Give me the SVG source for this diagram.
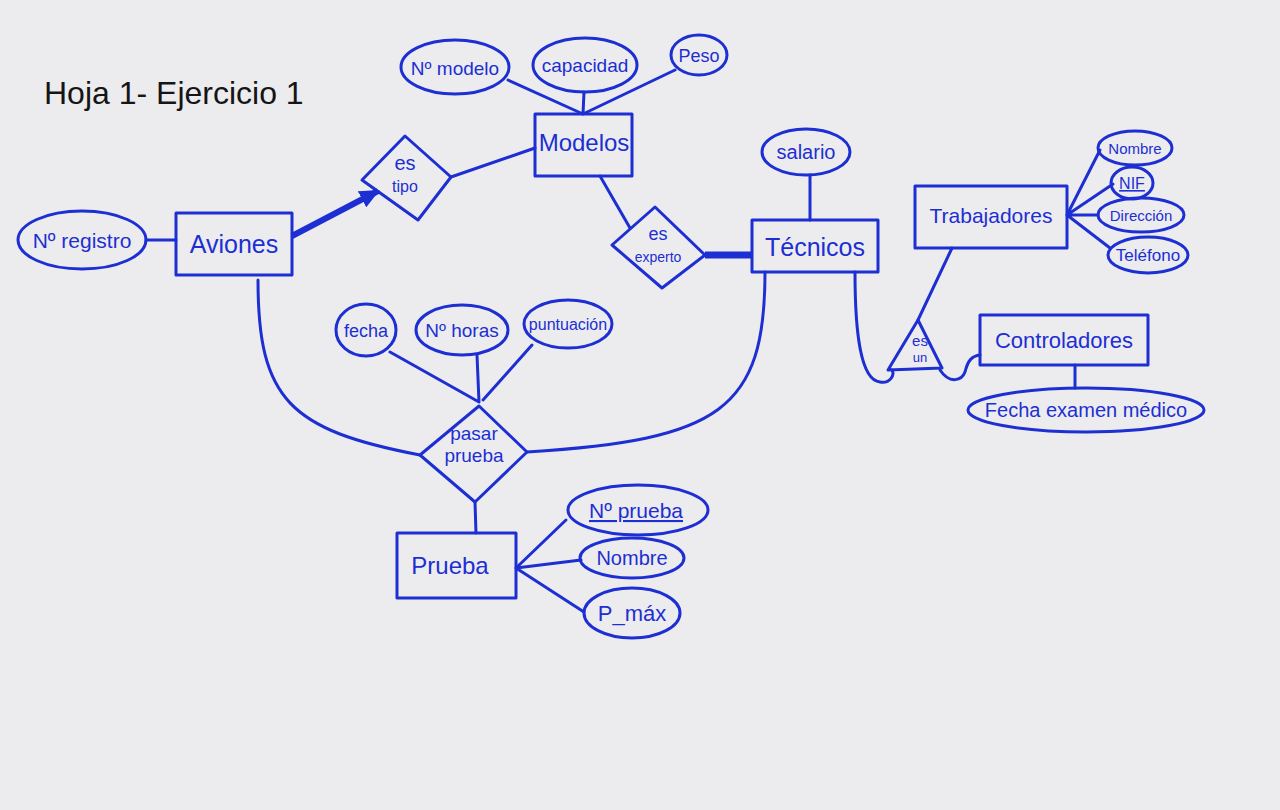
<svg xmlns="http://www.w3.org/2000/svg" width="1280" height="810" viewBox="0 0 1280 810">
<defs>
<style>
.s{fill:none;stroke:#1d2fd2;stroke-width:3;stroke-linejoin:round;stroke-linecap:round}
.t{font-family:"Liberation Sans",Arial,sans-serif;fill:#1d2fd2;text-anchor:middle}
.title{font-family:"Liberation Sans",Arial,sans-serif;fill:#151515;font-size:32px}
</style>
<marker id="ah" markerWidth="20" markerHeight="18" refX="18" refY="9" orient="auto" markerUnits="userSpaceOnUse">
<path d="M0,0 L20,9 L0,18 Z" fill="#1d2fd2"/>
</marker>
</defs>
<rect width="1280" height="810" fill="#ececef"/>
<text class="title" x="44" y="104">Hoja 1- Ejercicio 1</text>

<g id="connectors">
<path class="s" d="M146,240 L176,240"/>
<path d="M292,236 L378,191" stroke="#1d2fd2" stroke-width="6" fill="none" marker-end="url(#ah)"/>
<path class="s" d="M451,177 L535,148"/>
<path class="s" d="M508,80 L583,114 M584,92 L583,114 M675,70 L583,114"/>
<path class="s" d="M600,176 L630,228"/>
<path d="M705,255 L752,255" stroke="#1d2fd2" stroke-width="7" fill="none"/>
<path class="s" d="M810,175 L810,220"/>
<path class="s" d="M1067,215 L1100,150 M1067,215 L1113,184 M1067,215 L1098,215 M1067,215 L1110,248"/>
<path class="s" d="M952,248 L918,320"/>
<path class="s" d="M855,272 C855,330 860,380 880,382 C890,384 895,375 892,370"/>
<path class="s" d="M940,370 C950,385 962,380 965,372 C968,360 972,356 980,355"/>
<path class="s" d="M1075,365 L1075,388"/>
<path class="s" d="M258,280 C258,400 290,430 420,455"/>
<path class="s" d="M765,272 C765,410 720,440 527,452"/>
<path class="s" d="M390,352 L479,402 M477,355 L479,402 M532,345 L483,400"/>
<path class="s" d="M475,502 L476,533"/>
<path class="s" d="M516,568 L566,520 M516,568 L581,560 M516,568 L584,612"/>
</g>

<g id="n_registro"><ellipse class="s" cx="82" cy="240" rx="64" ry="29"/><text class="t" x="82" y="248" font-size="21">Nº registro</text></g>
<g id="aviones"><rect class="s" x="176" y="213" width="116" height="62"/><text class="t" x="234" y="253" font-size="25">Aviones</text></g>
<g id="es_tipo"><path class="s" d="M362,180 L405,136 L451,177 L418,220 Z"/><text class="t" x="405" y="170" font-size="20">es</text><text class="t" x="405" y="192" font-size="16">tipo</text></g>
<g id="modelos"><rect class="s" x="535" y="114" width="97" height="62"/><text class="t" x="584" y="151" font-size="24">Modelos</text></g>
<g id="n_modelo"><ellipse class="s" cx="455" cy="67" rx="54" ry="27"/><text class="t" x="455" y="75" font-size="19">Nº modelo</text></g>
<g id="capacidad"><ellipse class="s" cx="585" cy="65" rx="52" ry="27"/><text class="t" x="585" y="72" font-size="19">capacidad</text></g>
<g id="peso"><ellipse class="s" cx="699" cy="55" rx="28" ry="20"/><text class="t" x="699" y="62" font-size="18">Peso</text></g>
<g id="es_experto"><path class="s" d="M612,245 L655,207 L705,255 L662,288 Z"/><text class="t" x="658" y="240" font-size="18">es</text><text class="t" x="658" y="262" font-size="14">experto</text></g>
<g id="tecnicos"><rect class="s" x="752" y="220" width="126" height="52"/><text class="t" x="815" y="256" font-size="25">Técnicos</text></g>
<g id="salario"><ellipse class="s" cx="806" cy="152" rx="44" ry="23"/><text class="t" x="806" y="159" font-size="20">salario</text></g>
<g id="trabajadores"><rect class="s" x="915" y="186" width="152" height="62"/><text class="t" x="991" y="223" font-size="21">Trabajadores</text></g>
<g id="nombre_t"><ellipse class="s" cx="1135" cy="148" rx="37" ry="17"/><text class="t" x="1135" y="154" font-size="15">Nombre</text></g>
<g id="nif"><ellipse class="s" cx="1132" cy="183" rx="21" ry="16"/><text class="t" x="1132" y="189" font-size="16" text-decoration="underline">NIF</text></g>
<g id="direccion"><ellipse class="s" cx="1141" cy="215" rx="43" ry="17"/><text class="t" x="1141" y="221" font-size="15">Dirección</text></g>
<g id="telefono"><ellipse class="s" cx="1148" cy="255" rx="40" ry="18"/><text class="t" x="1148" y="261" font-size="17">Teléfono</text></g>
<g id="es_un"><path class="s" d="M918,320 L888,370 L942,368 Z"/><text class="t" x="920" y="346" font-size="15">es</text><text class="t" x="920" y="362" font-size="13">un</text></g>
<g id="controladores"><rect class="s" x="980" y="315" width="168" height="50"/><text class="t" x="1064" y="348" font-size="22">Controladores</text></g>
<g id="fecha_examen"><ellipse class="s" cx="1086" cy="410" rx="118" ry="22"/><text class="t" x="1086" y="417" font-size="20">Fecha examen médico</text></g>
<g id="pasar_prueba"><path class="s" d="M420,455 L479,406 L527,452 L475,502 Z"/><text class="t" x="474" y="440" font-size="19">pasar</text><text class="t" x="474" y="462" font-size="19">prueba</text></g>
<g id="fecha"><ellipse class="s" cx="366" cy="330" rx="30" ry="26"/><text class="t" x="366" y="337" font-size="18">fecha</text></g>
<g id="n_horas"><ellipse class="s" cx="462" cy="330" rx="46" ry="25"/><text class="t" x="462" y="337" font-size="19">Nº horas</text></g>
<g id="puntuacion"><ellipse class="s" cx="568" cy="324" rx="44" ry="24"/><text class="t" x="568" y="330" font-size="16">puntuación</text></g>
<g id="prueba"><rect class="s" x="397" y="533" width="119" height="65"/><text class="t" x="450" y="574" font-size="24">Prueba</text></g>
<g id="n_prueba"><ellipse class="s" cx="638" cy="510" rx="70" ry="25"/><text class="t" x="636" y="518" font-size="21" text-decoration="underline">Nº prueba</text></g>
<g id="nombre_p"><ellipse class="s" cx="632" cy="558" rx="52" ry="20"/><text class="t" x="632" y="565" font-size="20">Nombre</text></g>
<g id="p_max"><ellipse class="s" cx="632" cy="613" rx="48" ry="25"/><text class="t" x="632" y="621" font-size="22">P_máx</text></g>
</svg>
